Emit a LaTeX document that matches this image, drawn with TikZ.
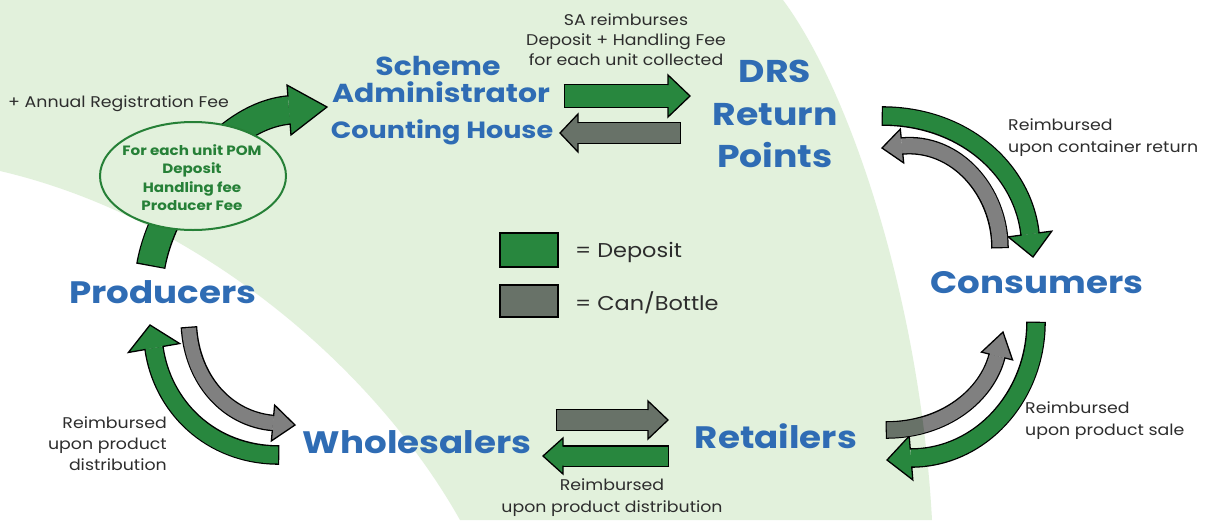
\documentclass[tikz,border=0pt]{standalone}
\usepackage{fontspec}
\setmainfont{Poppins}[FakeStretch=1.12]
\newfontfamily\labelfont{Poppins}[FakeStretch=1.15]
\usetikzlibrary{calc}
\definecolor{bgg}{RGB}{226,241,220}
\definecolor{dgreen}{RGB}{40,135,62}
\definecolor{graya}{RGB}{104,114,104}
\definecolor{grayb}{RGB}{128,128,128}
\definecolor{lblue}{RGB}{47,108,180}
\definecolor{txt}{RGB}{45,45,45}
\definecolor{egreen}{RGB}{38,128,55}
\newcommand\greenpath{(0,0) -- (783,0) .. controls (850,90) and (920,300) .. (932,520) -- (460,520) .. controls (370,360) and (190,215) .. (0,171) -- cycle}
% #1 colour, #2 shaft width, #3 head half width, #4 centre path ending at base, #5 base, #6 tip
\newcommand\fatarrow[6]{%
  \draw[black, line width={#2pt+2.6pt}, shorten <=-1.3pt] #4;
  \draw[#1, line width=#2pt] #4;
  \fill[#1] ($(#5)!#3pt!90:(#6)$) -- (#6) -- ($(#5)!#3pt!-90:(#6)$) -- cycle;
  \draw[black, line width=1.3pt, line join=miter]
    ($(#5)!#2pt*0.5!90:(#6)$) -- ($(#5)!#3pt!90:(#6)$) -- (#6)
    -- ($(#5)!#3pt!-90:(#6)$) -- ($(#5)!#2pt*0.5!-90:(#6)$);
}
\tikzset{
  lbl/.style={font=\labelfont\bfseries\fontsize{31}{36}\selectfont, text=lblue, inner sep=0pt, anchor=base},
  lbltwo/.style={font=\labelfont\bfseries\fontsize{31.5}{36}\selectfont, text=lblue, inner sep=0pt, anchor=base},
  lblthree/.style={font=\labelfont\bfseries\fontsize{26}{32}\selectfont, text=lblue, inner sep=0pt, anchor=base},
  lblfour/.style={font=\labelfont\bfseries\fontsize{23.5}{28}\selectfont, text=lblue, inner sep=0pt, anchor=base},
  sml/.style={font=\fontsize{15.5}{18}\selectfont, text=txt, inner sep=0pt, anchor=base},
  ell/.style={font=\bfseries\fontsize{13.5}{18}\selectfont, text=egreen, inner sep=0pt, anchor=base},
  leg/.style={font=\fontsize{20}{24}\selectfont, text=txt, inner sep=0pt, anchor=base west},
}
\begin{document}
\begin{tikzpicture}[x=1pt, y=-1pt]
\useasboundingbox (0,0) rectangle (1208,520);
\fill[white] (0,0) rectangle (1208,520);
\fill[bgg] \greenpath;

% arrow coordinates
\coordinate (a1s) at (151,265); \coordinate (a1b) at (289,110); \coordinate (a1t) at (327,107);
\coordinate (a2s) at (565,96);  \coordinate (a2b) at (668,96);  \coordinate (a2t) at (690,96);
\coordinate (a3s) at (680,133); \coordinate (a3b) at (578,133); \coordinate (a3t) at (560,133);
\coordinate (a4s) at (883,116); \coordinate (a4b) at (1030,234); \coordinate (a4t) at (1033,257);
\coordinate (a5s) at (1000,247); \coordinate (a5b) at (902,146); \coordinate (a5t) at (882,148);
\coordinate (a6s) at (1036,323); \coordinate (a6b) at (911,458); \coordinate (a6t) at (887,460);
\coordinate (a7s) at (887,430); \coordinate (a7b) at (997,356); \coordinate (a7t) at (1003,332);
\coordinate (a8s) at (557,420); \coordinate (a8b) at (648,420); \coordinate (a8t) at (668,420);
\coordinate (a9s) at (668,456); \coordinate (a9b) at (563,456); \coordinate (a9t) at (543,456);
\coordinate (a10s) at (278,455); \coordinate (a10b) at (154,348); \coordinate (a10t) at (150,325);
\coordinate (a11s) at (189,328); \coordinate (a11b) at (273,423); \coordinate (a11t) at (295,425);

\fatarrow{dgreen}{27}{25}{(a1s) .. controls (161,206) and (221,116) .. (a1b)}{a1b}{a1t}
\fatarrow{dgreen}{22}{21}{(a2s) -- (a2b)}{a2b}{a2t}
\fatarrow{graya}{20}{19}{(a3s) -- (a3b)}{a3b}{a3t}
\fatarrow{dgreen}{17}{22}{(a4s) .. controls (964,116) and (1023,170) .. (a4b)}{a4b}{a4t}
\fatarrow{grayb}{15}{17}{(a5s) .. controls (1000,191) and (956,141) .. (a5b)}{a5b}{a5t}
\fatarrow{dgreen}{17}{22}{(a6s) .. controls (1036,397) and (980,458) .. (a6b)}{a6b}{a6t}
\fatarrow{grayb}{15}{16}{(a7s) .. controls (945,430) and (987,395) .. (a7b)}{a7b}{a7t}
\begin{scope}
  \clip \greenpath;
  \draw[graya, line width=15pt] (a7s) .. controls (945,430) and (987,395) .. (a7b);
\end{scope}
\fatarrow{graya}{20}{19}{(a8s) -- (a8b)}{a8b}{a8t}
\fatarrow{dgreen}{19}{18}{(a9s) -- (a9b)}{a9b}{a9t}
\fatarrow{dgreen}{17}{26}{(a10s) .. controls (210,455) and (162,406) .. (a10b)}{a10b}{a10t}
\fatarrow{grayb}{14}{18}{(a11s) .. controls (192,380) and (227,419) .. (a11b)}{a11b}{a11t}

% ellipse
\filldraw[fill=bgg, draw=egreen, line width=2pt] (193,176) ellipse [x radius=93, y radius=54];
\node[ell] (pom1) at (192,155) {For each unit POM};
\node[ell] (pom2) at (192,173) {Deposit};
\node[ell] (pom3) at (192,192) {Handling fee};
\node[ell] (pom4) at (192,210) {Producer Fee};

% main labels
\node[lbl] (prod) at (163,303) {Producers};
\node[lbl] (whole) at (417,453) {Wholesalers};
\node[lbl] (ret) at (776,448) {Retailers};
\node[lbl] (cons) at (1037,293) {Consumers};
\node[lbltwo] (drs1) at (775,82) {DRS};
\node[lbltwo] (drs2) at (775,125) {Return};
\node[lbltwo] (drs3) at (775,167) {Points};
\node[lblthree] (sa1) at (438,75) {Scheme};
\node[lblthree] (sa2) at (441,102) {Administrator};
\node[lblfour] (sa3) at (442,138) {Counting House};

% small texts
\node[sml, anchor=base west] (arf) at (8,107) {+ Annual Registration Fee};
\node[sml] (sar1) at (626,25) {SA reimburses};
\node[sml] (sar2) at (626,45) {Deposit + Handling Fee};
\node[sml] (sar3) at (626,65) {for each unit collected};
\node[sml, anchor=base west] (rcr1) at (1008,130) {Reimbursed};
\node[sml, anchor=base west] (rcr2) at (1008,152) {upon container return};
\node[sml, anchor=base west] (rps1) at (1025,413) {Reimbursed};
\node[sml, anchor=base west] (rps2) at (1025,435) {upon product sale};
\node[sml] (rpd1) at (612,490) {Reimbursed};
\node[sml] (rpd2) at (612,512) {upon product distribution};
\node[sml, anchor=base east] (rlp1) at (167,428) {Reimbursed};
\node[sml, anchor=base east] (rlp2) at (167,449) {upon product};
\node[sml, anchor=base east] (rlp3) at (167,470) {distribution};

% legend
\node[draw=black, line width=1.3pt, fill=dgreen, minimum width=58pt, minimum height=34pt, inner sep=0pt] (legd) at (529,250) {};
\node[draw=black, line width=1.3pt, fill=graya, minimum width=58pt, minimum height=32pt, inner sep=0pt] (legc) at (529,301) {};
\node[leg] (legdt) at (575,257) {= Deposit};
\node[leg] (legct) at (575,310) {= Can/Bottle};
\end{tikzpicture}
\end{document}
